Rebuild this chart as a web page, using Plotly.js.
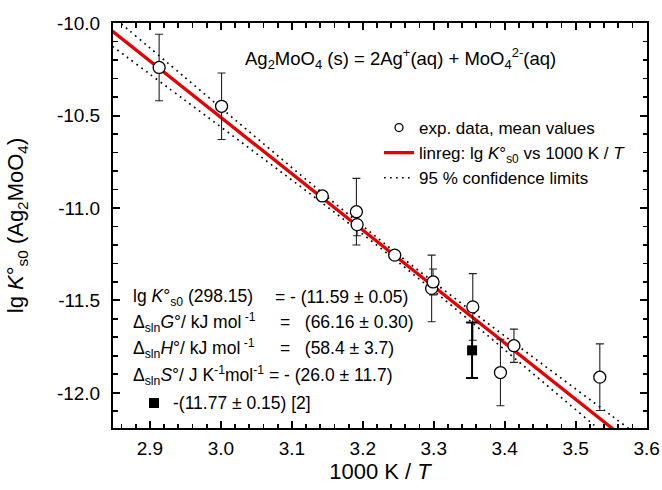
<!DOCTYPE html>
<html>
<head>
<meta charset="utf-8">
<script src="https://cdn.plot.ly/plotly-3.0.1.min.js"></script>
<style>html,body{margin:0;padding:0;background:#fff;}#chart{width:662px;height:490px;}</style>
</head>
<body>
<div id="chart"></div>
<script>
// experimental data, mean values
const xData = [2.913, 3.001, 3.143, 3.191, 3.192, 3.245, 3.297, 3.299, 3.355, 3.394, 3.413, 3.534];
const yData = [-10.24, -10.45, -10.935, -11.02, -11.09, -11.255, -11.435, -11.40, -11.535, -11.89, -11.745, -11.915];
const yErr  = [0.18, 0.18, 0.02, 0.18, 0.06, 0.02, 0.18, 0.07, 0.18, 0.18, 0.09, 0.18];
// literature value [2]
const xRef = [3.354];
const yRef = [-11.77];
const errRef = [0.15];
// linear regression line
const lineX = [2.84, 3.6];
const lineY = [-10.022, -12.34];
// 95 % confidence limits
const confX = [2.84, 2.95, 3.05, 3.15, 3.25, 3.35, 3.45, 3.55, 3.6];
const confUpper = [-9.940, -10.296, -10.620, -10.941, -11.252, -11.548, -11.836, -12.122, -12.265];
const confLower = [-10.105, -10.419, -10.705, -10.994, -11.293, -11.607, -11.929, -12.253, -12.415];
// tick labels
const yTickVals = [-10.0, -10.5, -11.0, -11.5, -12.0];
const yTickText = ["-10.0", "-10.5", "-11.0", "-11.5", "-12.0"];

const FONT = "Liberation Sans, Arial, Helvetica, sans-serif";
const RED = '#e60000';
const DOT = '1.7px,4.3px';

// map Plotly's true-minus labels to plain hyphen labels
const yAlias = {};
yTickVals.forEach((v, i) => { yAlias['\u2212' + Math.abs(v).toFixed(1)] = yTickText[i]; });

const traces = [
  {x: confX, y: confUpper, mode: 'lines', line: {color: '#000', width: 1.7, dash: DOT, shape: 'spline'}, showlegend: false, hoverinfo: 'skip'},
  {x: confX, y: confLower, mode: 'lines', line: {color: '#000', width: 1.7, dash: DOT, shape: 'spline'}, showlegend: false, hoverinfo: 'skip'},
  {x: lineX, y: lineY, mode: 'lines', line: {color: RED, width: 3.3}, showlegend: false},
  {x: xData, y: yData, mode: 'markers', showlegend: false,
   marker: {symbol: 'circle', size: 12, color: '#fff', line: {color: '#000', width: 1.3}},
   error_y: {type: 'data', array: yErr, visible: true, color: '#222', thickness: 1.1, width: 4}},
  {x: xRef, y: yRef, mode: 'markers', showlegend: false,
   marker: {symbol: 'square', size: 10, color: '#000'},
   error_y: {type: 'data', array: errRef, visible: true, color: '#000', thickness: 2, width: 6}},
  // legend-only entries
  {x: [null], y: [null], mode: 'markers', name: 'exp. data, mean values', legendrank: 1,
   marker: {symbol: 'circle', size: 8, color: '#fff', line: {color: '#000', width: 1.3}}},
  {x: [null], y: [null], mode: 'lines', name: 'linreg: lg <i>K</i>°<sub>s0</sub> vs 1000 K / <i>T</i>', legendrank: 2,
   line: {color: RED, width: 3.3}},
  {x: [null], y: [null], mode: 'lines', name: '95 % confidence limits', legendrank: 3,
   line: {color: '#000', width: 1.7, dash: DOT}}
];

function px(x) { return (x - 113) / 534; }
function py(y) { return (428 - y) / 405; }

const ann = (text, x, y, anchor, size) => ({text: text, xref: 'paper', yref: 'paper', x: px(x), y: py(y),
  xanchor: anchor || 'left', yanchor: 'middle', showarrow: false, font: {family: FONT, size: size || 17.5, color: '#000'}});

const layout = {
  width: 662, height: 490,
  margin: {l: 113, r: 15, t: 23, b: 62},
  paper_bgcolor: '#fff', plot_bgcolor: '#fff',
  font: {family: FONT, size: 19, color: '#000'},
  showlegend: true,
  legend: {x: px(379), y: py(110), xanchor: 'left', yanchor: 'top', bgcolor: 'rgba(0,0,0,0)',
           font: {family: FONT, size: 17, color: '#000'}, tracegroupgap: 0},
  xaxis: {
    range: [2.848, 3.6005], tickmode: 'linear', tick0: 2.9, dtick: 0.1, tickformat: '.1f',
    ticks: 'inside', ticklen: 7, tickwidth: 2, tickcolor: '#000',
    showline: true, linewidth: 2, linecolor: '#000', mirror: 'allticks',
    showgrid: false, zeroline: false, ticklabelstandoff: 2,
    tickfont: {family: FONT, size: 19, color: '#000'},
    minor: {tick0: 2.9, dtick: 0.02, ticks: 'inside', ticklen: 4.5, tickwidth: 1.8, tickcolor: '#000', showgrid: false},
    title: {text: '1000 K / <i>T</i>', font: {family: FONT, size: 22, color: '#000'}, standoff: 6}
  },
  yaxis: {
    range: [-12.19, -9.9995], tickmode: 'linear', tick0: -10, dtick: 0.5, tickformat: '.1f', labelalias: yAlias,
    ticks: 'inside', ticklen: 7, tickwidth: 2, tickcolor: '#000',
    showline: true, linewidth: 2, linecolor: '#000', mirror: 'allticks',
    showgrid: false, zeroline: false, ticklabelstandoff: 7,
    tickfont: {family: FONT, size: 19, color: '#000'},
    minor: {tick0: -10, dtick: 0.1, ticks: 'inside', ticklen: 4.5, tickwidth: 1.8, tickcolor: '#000', showgrid: false},
    title: {text: 'lg <i>K</i>°<sub>s0</sub> (Ag<sub>2</sub>MoO<sub>4</sub>)', font: {family: FONT, size: 22, color: '#000'}, standoff: 27}
  },
  annotations: [
    ann('Ag<sub>2</sub>MoO<sub>4</sub> (s) = 2Ag<sup>+</sup>(aq) + MoO<sub>4</sub><sup>2-</sup>(aq)', 400, 58, 'center', 18.5),
    ann('lg <i>K</i>°<sub>s0</sub> (298.15)', 131, 297),
    ann('= - (11.59 ± 0.05)', 273, 297),
    ann('Δ<sub>sln</sub><i>G</i>°/ kJ mol<sup> -1</sup>', 131, 322),
    ann('=   (66.16 ± 0.30)', 278, 322),
    ann('Δ<sub>sln</sub><i>H</i>°/ kJ mol<sup> -1</sup>', 131, 348),
    ann('=   (58.4 ± 3.7)', 278, 348),
    ann('Δ<sub>sln</sub><i>S</i>°/ J K<sup>-1</sup>mol<sup>-1</sup> = - (26.0 ± 11.7)', 131, 375),
    ann('-(11.77 ± 0.15) [2]', 171, 403)
  ],
  shapes: [
    {type: 'rect', xref: 'paper', yref: 'paper', x0: px(149), x1: px(159), y0: py(408), y1: py(398),
     fillcolor: '#000', line: {width: 0}}
  ]
};

Plotly.newPlot('chart', traces, layout, {staticPlot: true, displayModeBar: false});
</script>
</body>
</html>
